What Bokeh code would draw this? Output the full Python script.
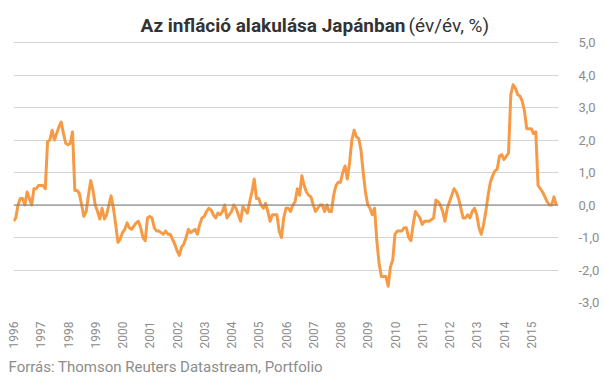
import math
from bokeh.plotting import figure
from bokeh.models import Range1d, FixedTicker, Span, Label, LinearAxis, Title
from bokeh.embed import file_html
from bokeh.resources import INLINE

# Monthly year-on-year CPI change in Japan (%), Jan 1996 - Dec 2015
y1996 = [-0.5, -0.4, 0.0, 0.2, 0.2, 0.0, 0.4, 0.2, 0.0, 0.5, 0.5, 0.6]
y1997 = [0.6, 0.6, 0.5, 1.95, 2.0, 2.3, 2.0, 2.2, 2.4, 2.55, 2.2, 1.9]
y1998 = [1.85, 1.9, 2.25, 0.45, 0.45, 0.35, 0.0, -0.35, -0.2, 0.3, 0.75, 0.45]
y1999 = [0.0, -0.2, -0.43, -0.1, -0.43, -0.3, 0.0, 0.28, -0.1, -0.6, -1.15, -1.05]
y2000 = [-0.85, -0.75, -0.55, -0.7, -0.75, -0.65, -0.55, -0.5, -0.7, -1.0, -1.1, -0.4]
y2001 = [-0.35, -0.4, -0.7, -0.8, -0.8, -0.85, -0.9, -0.8, -0.9, -0.9, -1.05, -1.2]
y2002 = [-1.4, -1.55, -1.3, -1.2, -1.0, -0.75, -0.85, -0.8, -0.75, -0.9, -0.6, -0.4]
y2003 = [-0.35, -0.2, -0.1, -0.15, -0.3, -0.4, -0.25, -0.3, -0.2, 0.0, -0.4, -0.3]
y2004 = [-0.2, 0.0, -0.1, -0.3, -0.5, -0.05, -0.15, -0.25, 0.1, 0.4, 0.8, 0.2]
y2005 = [0.2, 0.0, -0.1, 0.05, -0.2, -0.5, -0.3, -0.3, -0.3, -0.8, -1.0, -0.4]
y2006 = [-0.1, -0.1, -0.2, 0.0, 0.1, 0.5, 0.3, 0.9, 0.6, 0.4, 0.3, 0.25]
y2007 = [0.0, -0.2, -0.1, 0.0, 0.0, -0.2, 0.0, -0.2, -0.2, 0.3, 0.6, 0.7]
y2008 = [0.7, 1.0, 1.2, 0.8, 1.3, 2.0, 2.3, 2.1, 2.05, 1.7, 1.0, 0.4]
y2009 = [0.0, -0.1, -0.3, -0.1, -1.1, -1.8, -2.2, -2.2, -2.2, -2.5, -1.9, -1.7]
y2010 = [-0.9, -0.8, -0.8, -0.8, -0.7, -0.7, -1.0, -1.1, -0.6, -0.2, -0.3, -0.4]
y2011 = [-0.6, -0.5, -0.5, -0.5, -0.45, -0.4, 0.15, 0.1, 0.0, -0.2, -0.5, -0.1]
y2012 = [0.1, 0.3, 0.5, 0.4, 0.2, -0.1, -0.4, -0.4, -0.3, -0.4, -0.2, -0.1]
y2013 = [-0.3, -0.7, -0.9, -0.6, -0.2, 0.3, 0.7, 0.9, 1.05, 1.1, 1.5, 1.55]
y2014 = [1.4, 1.5, 1.6, 3.4, 3.7, 3.6, 3.4, 3.35, 3.2, 2.9, 2.35, 2.35]
y2015 = [2.35, 2.2, 2.25, 0.6, 0.5, 0.4, 0.25, 0.1, 0.0, 0.0, 0.25, 0.0]

years = list(range(1996, 2016))
yearly = [y1996, y1997, y1998, y1999, y2000, y2001, y2002, y2003, y2004, y2005,
          y2006, y2007, y2008, y2009, y2010, y2011, y2012, y2013, y2014, y2015]

y_ticks = [-3, -2, -1, 0, 1, 2, 3, 4, 5]
y_tick_labels = ["-3,0", "-2,0", "-1,0", "0,0", "1,0", "2,0", "3,0", "4,0", "5,0"]

title_bold = "Az infláció alakulása Japánban"
title_normal = "(év/év, %)"
source_text = "Forrás: Thomson Reuters Datastream, Portfolio"

xs, vals = [], []
for yr, arr in zip(years, yearly):
    for m, v in enumerate(arr):
        xs.append(yr + m / 12.0)
        vals.append(v)

FONT = "Roboto"
GRAY = "#8c8c8c"

# frame spans from the top of the canvas (title area) down to the -3 grid line
y_top = 5 + 42 / 32.5
p = figure(frame_width=545, frame_height=302, output_backend="svg", toolbar_location=None,
           x_range=Range1d(1996, 2016), y_range=Range1d(-3, y_top),
           min_border_left=13, min_border_right=40, min_border_top=0, min_border_bottom=40,
           x_axis_location="below", y_axis_location=None)
p.outline_line_color = None
p.background_fill_color = "white"
p.border_fill_color = "white"

# right axis
yaxis = LinearAxis(ticker=FixedTicker(ticks=y_ticks),
                   major_label_overrides={t: l for t, l in zip(y_ticks, y_tick_labels)})
yaxis.axis_line_color = None
yaxis.major_tick_line_color = None
yaxis.minor_tick_line_color = None
yaxis.major_label_standoff = 14
yaxis.major_label_text_font = FONT
yaxis.major_label_text_font_size = "13px"
yaxis.major_label_text_color = GRAY
p.add_layout(yaxis, "right")

xaxis = p.xaxis[0]
xaxis.ticker = FixedTicker(ticks=years)
xaxis.axis_line_color = None
xaxis.major_tick_line_color = None
xaxis.minor_tick_line_color = None
xaxis.major_label_orientation = math.pi / 2
xaxis.major_label_standoff = 13
xaxis.major_label_text_font = FONT
xaxis.major_label_text_font_size = "12px"
xaxis.major_label_text_color = GRAY

p.xgrid.visible = False
p.ygrid.ticker = FixedTicker(ticks=y_ticks)
p.ygrid.grid_line_color = "#d4d4d4"
p.ygrid.grid_line_width = 1

p.add_layout(Span(location=0, dimension="width", line_color="#7a7a7a", line_width=1))

p.line(xs, vals, line_color="#F79A45", line_width=3, line_join="round")

p.add_layout(Label(x=392, y=277, x_units="screen", y_units="screen", text=title_bold,
                   text_align="right", text_baseline="alphabetic", text_font=FONT,
                   text_font_style="bold", text_font_size="19px", text_color="#333333"))
p.add_layout(Label(x=395, y=277, x_units="screen", y_units="screen", text=title_normal,
                   text_align="left", text_baseline="alphabetic", text_font=FONT,
                   text_font_size="19px", text_color="#333333"))

p.add_layout(Title(text=source_text, align="left", offset=-5, standoff=8,
                   text_font=FONT, text_font_style="normal", text_font_size="15px",
                   text_color=GRAY), "below")

open("out.html", "w").write(file_html(p, INLINE))
